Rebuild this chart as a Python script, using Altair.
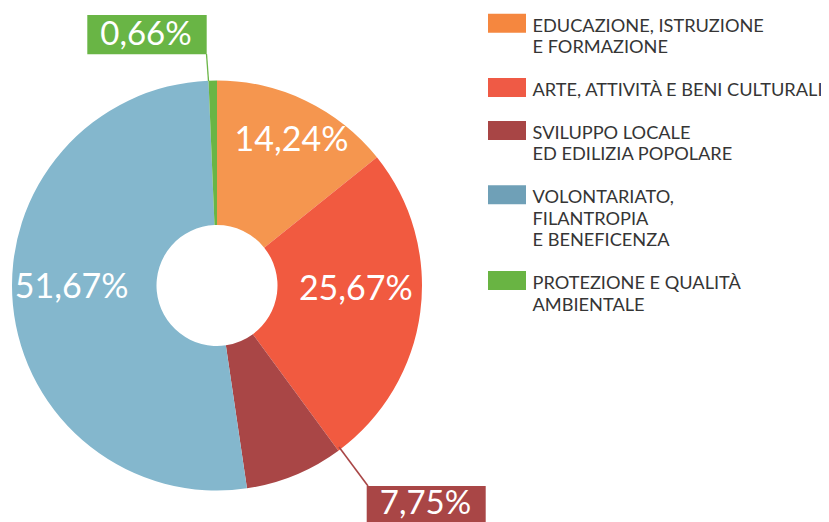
import altair as alt
import pandas as pd

# ---- data ----
keys = ["edu", "arte", "svil", "vol", "amb"]
labels = [
    "EDUCAZIONE, ISTRUZIONE\nE FORMAZIONE",
    "ARTE, ATTIVITÀ E BENI CULTURALI",
    "SVILUPPO LOCALE\nED EDILIZIA POPOLARE",
    "VOLONTARIATO,\nFILANTROPIA\nE BENEFICENZA",
    "PROTEZIONE E QUALITÀ\nAMBIENTALE",
]
values = [14.24, 25.67, 7.75, 51.67, 0.66]
pie_colors = ["#F5964F", "#F15A40", "#A94646", "#84B7CD", "#69B545"]
legend_colors = ["#F5873F", "#EF5A45", "#A84545", "#6FA0B7", "#69B443"]

df = pd.DataFrame({"key": keys, "label": labels, "value": values, "idx": list(range(len(keys)))})

# legend rows: each item takes its number of lines plus one blank line
lines = [lab.count("\n") + 1 for lab in labels]
rows = []
acc = 0
for n in lines:
    rows.append(acc)
    acc += n + 1
leg = pd.DataFrame({"key": keys, "label": labels, "row": rows})

FONT = "Lato"
CX, CY = 209, 277.5
fmt = "replace(format(datum.value, '.2f'), '.', ',') + '%'"

color_scale = alt.Scale(domain=keys, range=pie_colors)

base = alt.Chart(df).encode(
    theta=alt.Theta("value:Q", stack=True),
    order=alt.Order("idx:Q"),
    x=alt.value(CX),
    y=alt.value(CY),
)

arcs = base.mark_arc(outerRadius=205, innerRadius=60.5).encode(
    color=alt.Color("key:N", scale=color_scale, legend=None)
)


def inside(key, r, dx, dy):
    return base.transform_calculate(
        t=f"datum.key == '{key}' ? {fmt} : ''"
    ).mark_text(
        radius=r, dx=dx, dy=dy, font=FONT, fontSize=34, color="white",
        align="center", baseline="middle",
    ).encode(text="t:N")


t_edu = inside("edu", 163, 4, 2)
t_arte = inside("arte", 139, 1, -13.5)
t_vol = inside("vol", 146, 0, -11)


def callout(key, box, line, txt, lw):
    d = alt.Chart(df).transform_filter(f"datum.key == '{key}'").transform_calculate(t=fmt)
    b = d.mark_rect().encode(
        x=alt.value(box[0]), x2=alt.value(box[1]), y=alt.value(box[2]), y2=alt.value(box[3]),
        color=alt.Color("key:N", scale=color_scale, legend=None),
    )
    l = d.mark_rule(strokeWidth=lw).encode(
        x=alt.value(line[0]), x2=alt.value(line[1]), y=alt.value(line[2]), y2=alt.value(line[3]),
        color=alt.Color("key:N", scale=color_scale, legend=None),
    )
    t = d.mark_text(font=FONT, fontSize=33, color="white", align="center", baseline="middle").encode(
        x=alt.value(txt[0]), y=alt.value(txt[1]), text="t:N"
    )
    return [l, b, t]


green = callout("amb", (79.3, 198.7, 7, 46.3), (198.5, 200.5, 46, 73), (138, 26.5), 1.3)
dred = callout("svil", (358.7, 477.7, 478, 518), (331, 360, 439, 478), (417.5, 496), 1.6)

yscale = alt.Scale(domain=[0, 22], range=[23.7, 23.7 + 22 * 21.45], nice=False, zero=False)

swatches = alt.Chart(leg).mark_point(
    shape="M-1,-0.5H1V0.5H-1Z", size=1444, filled=True, opacity=1, strokeWidth=0, yOffset=-8.5
).encode(
    x=alt.value(499),
    y=alt.Y("row:Q", scale=yscale, axis=None),
    fill=alt.Fill("key:N", scale=alt.Scale(domain=keys, range=legend_colors), legend=None),
)

leg_text = alt.Chart(leg).mark_text(
    align="left", baseline="alphabetic", lineBreak="\n", lineHeight=21.45,
    font=FONT, fontSize=18.2, color="#353535",
).encode(
    x=alt.value(524.5),
    y=alt.Y("row:Q", scale=yscale, axis=None),
    text="label:N",
)

chart = alt.layer(
    arcs, t_edu, t_arte, t_vol, *green, *dred, swatches, leg_text
).properties(
    width=813, height=514, padding=0,
    autosize=alt.AutoSizeParams(type="none"),
).configure_view(stroke=None)

chart.save("out.html", embed_options={"renderer": "svg", "actions": False})
